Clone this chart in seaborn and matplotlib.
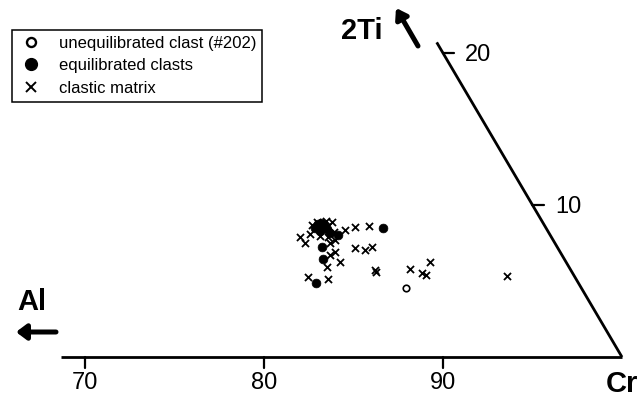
import numpy as np
import pandas as pd
import matplotlib
matplotlib.use("Agg")
import matplotlib.pyplot as plt
import seaborn as sns
from matplotlib.lines import Line2D

sns.set_style("white")
plt.rcParams['font.family'] = ['Liberation Sans', 'DejaVu Sans']
plt.rcParams['text.color'] = 'black'

# ---- data (ternary components: Cr %, 2Ti %) ----
matrix_cr = [78.06, 78.54, 78.52, 78.34, 78.52, 78.99, 79.36, 79.15, 79.63, 80.12,
             80.35, 80.80, 81.56, 79.94, 81.50, 82.12, 82.41, 80.34, 80.52, 81.13,
             80.56, 83.34, 83.46, 85.27, 86.15, 86.07, 86.35, 90.92, 79.83, 81.02,
             79.80, 79.30]
matrix_ti = [7.89, 7.50, 8.09, 8.68, 8.88, 8.95, 8.88, 7.96, 7.89, 7.70,
             8.36, 8.55, 8.62, 7.50, 7.17, 7.04, 7.24, 6.71, 6.91, 6.25,
             5.92, 5.72, 5.59, 5.79, 6.25, 5.53, 5.39, 5.33, 5.26, 5.13,
             8.20, 8.60]
equil_cr = [78.60, 78.64, 78.77, 79.01, 79.31, 78.99, 80.12, 79.62, 80.07, 80.48,
            82.41, 79.61]
equil_ti = [8.49, 8.75, 8.82, 8.68, 8.42, 8.29, 8.03, 7.24, 6.45, 4.87,
            8.49, 8.16]
unequil_cr = [85.66]
unequil_ti = [4.54]

cr_ticks = [70, 80, 90]
ti_ticks = [10, 20]
labels = ["unequilibrated clast (#202)", "equilibrated clasts", "clastic matrix"]

S3 = np.sqrt(3) / 2


def to_xy(cr, ti):
    cr = np.asarray(cr, float)
    ti = np.asarray(ti, float)
    return cr + ti / 2.0, ti * S3


fig = plt.figure(figsize=(6.42, 3.97), dpi=100)
ax = fig.add_axes([0, 0, 1, 1])
ax.set_xlim(65.25, 101.12)
ax.set_ylim(-2.28, 20.34)
ax.axis('off')

# frame of the ternary section
ax.plot([68.66, 100], [0, 0], color='black', lw=2.0, solid_capstyle='butt', zorder=2)
ti_top = 20.7
ax.plot([100, 100 - ti_top / 2], [0, ti_top * S3], color='black', lw=2.0,
        solid_capstyle='butt', zorder=2)

# bottom ticks
for t in cr_ticks:
    ax.plot([t, t], [0, -0.63], color='black', lw=1.6)
    ax.text(t, -1.48, str(t), ha='center', va='center', fontsize=17, color='black')

# slanted-edge ticks
for t in ti_ticks:
    x0, y0 = 100 - t / 2, t * S3
    ax.plot([x0, x0 + 0.62], [y0, y0], color='black', lw=1.6)
    ax.text(x0 + 1.25, y0 - 0.1, str(t), ha='left', va='center', fontsize=17,
            color='black')

# data
mx, my = to_xy(matrix_cr, matrix_ti)
ex, ey = to_xy(equil_cr, equil_ti)
ux, uy = to_xy(unequil_cr, unequil_ti)
df_m = pd.DataFrame({'x': mx, 'y': my})
df_e = pd.DataFrame({'x': ex, 'y': ey})
df_u = pd.DataFrame({'x': ux, 'y': uy})

sns.scatterplot(data=df_m, x='x', y='y', ax=ax, marker='x', color='black',
                s=26, linewidth=1.3, legend=False, zorder=3)
sns.scatterplot(data=df_e, x='x', y='y', ax=ax, marker='o', color='black',
                edgecolor='black', s=40, linewidth=0.5, legend=False, zorder=4)
sns.scatterplot(data=df_u, x='x', y='y', ax=ax, marker='o', facecolor='white',
                edgecolor='black', s=22, linewidth=1.2, legend=False, zorder=4)

# legend
handles = [
    Line2D([], [], ls='none', marker='o', markerfacecolor='white',
           markeredgecolor='black', markeredgewidth=1.7, markersize=6.5),
    Line2D([], [], ls='none', marker='o', markerfacecolor='black',
           markeredgecolor='black', markersize=8.5),
    Line2D([], [], ls='none', marker='x', color='black', markeredgewidth=1.4,
           markersize=6.5),
]
leg = ax.legend(handles, labels, loc='upper left',
                bbox_to_anchor=(12 / 642, 1 - 30 / 397),
                bbox_transform=fig.transFigure, borderaxespad=0,
                fontsize=12, frameon=True, fancybox=False, framealpha=1,
                edgecolor='black', handlelength=1.6, handletextpad=0.85,
                labelspacing=0.45, borderpad=0.35)
leg.get_frame().set_linewidth(1.1)
for txt in leg.get_texts():
    txt.set_color('black')

# vertex labels and arrows (positions in figure pixels)
H = 397
fig.text(341 / 642, 1 - 31 / H, "2Ti", ha='left', va='center',
         fontsize=21, fontweight='bold', color='black')
ax.annotate('', xy=(396, H - 8), xycoords='figure pixels',
            xytext=(418, H - 46), textcoords='figure pixels',
            arrowprops=dict(arrowstyle='-|>,head_length=0.6,head_width=0.4',
                            lw=3.6, color='black', shrinkA=0, shrinkB=0))
fig.text(17 / 642, 1 - 302 / H, "Al", ha='left', va='center',
         fontsize=21, fontweight='bold', color='black')
ax.annotate('', xy=(16, H - 332), xycoords='figure pixels',
            xytext=(56, H - 332), textcoords='figure pixels',
            arrowprops=dict(arrowstyle='-|>,head_length=0.6,head_width=0.45',
                            lw=3.6, color='black', shrinkA=0, shrinkB=0))
fig.text(606 / 642, 1 - 384 / H, "Cr", ha='left', va='center',
         fontsize=21, fontweight='bold', color='black')

fig.savefig('out.png', dpi=100)
